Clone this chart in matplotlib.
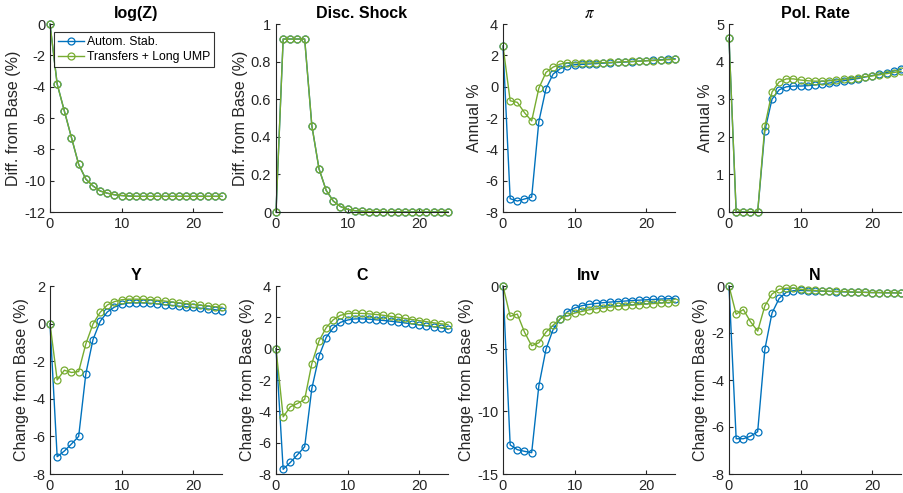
import matplotlib
matplotlib.use("Agg")
import matplotlib.pyplot as plt
import numpy as np

# horizon (quarters)
t = list(range(25))

logz_a = [0, -3.83, -5.55, -7.26, -8.96, -9.9, -10.34, -10.66, -10.8, -10.9, -10.95, -10.98, -11.0,
          -11.0, -11.0, -11.0, -11.0, -11.0, -11.0, -11.0, -11.0, -11.0, -11.0, -11.0, -11.0]
logz_b = logz_a

disc_a = [0, 0.92, 0.92, 0.92, 0.92, 0.46, 0.23, 0.115, 0.058, 0.029, 0.014, 0.007, 0.004,
          0.002, 0.001, 0.0005, 0, 0, 0, 0, 0, 0, 0, 0, 0]
disc_b = disc_a

pi_a = [2.6, -7.15, -7.3, -7.17, -7.05, -2.23, -0.12, 0.81, 1.15, 1.32, 1.40, 1.42, 1.45,
        1.47, 1.50, 1.52, 1.55, 1.57, 1.60, 1.63, 1.66, 1.69, 1.72, 1.75, 1.78]
pi_b = [2.6, -0.9, -1.0, -1.66, -2.19, -0.1, 0.91, 1.25, 1.44, 1.53, 1.52, 1.51, 1.51,
        1.52, 1.53, 1.55, 1.57, 1.59, 1.61, 1.63, 1.65, 1.67, 1.69, 1.72, 1.74]

rate_a = [4.62, 0, 0, 0, 0, 2.16, 3.0, 3.25, 3.33, 3.35, 3.35, 3.36, 3.38,
          3.40, 3.43, 3.46, 3.49, 3.52, 3.55, 3.59, 3.63, 3.67, 3.71, 3.75, 3.79]
rate_b = [4.62, 0, 0, 0, 0, 2.28, 3.19, 3.46, 3.54, 3.54, 3.51, 3.49, 3.48,
          3.48, 3.49, 3.51, 3.53, 3.55, 3.57, 3.60, 3.62, 3.65, 3.68, 3.71, 3.74]

y_a = [0, -7.08, -6.78, -6.4, -6.0, -2.67, -0.85, 0.12, 0.62, 0.88, 1.03, 1.1, 1.1,
       1.1, 1.08, 1.05, 1.0, 0.97, 0.93, 0.9, 0.86, 0.82, 0.78, 0.74, 0.69]
y_b = [0, -3.0, -2.48, -2.6, -2.55, -1.08, -0.02, 0.6, 0.99, 1.17, 1.27, 1.3, 1.3,
       1.29, 1.27, 1.24, 1.2, 1.15, 1.1, 1.06, 1.02, 0.98, 0.94, 0.9, 0.87]

c_a = [0, -7.7, -7.26, -6.77, -6.26, -2.54, -0.48, 0.71, 1.34, 1.68, 1.83, 1.9, 1.9,
       1.88, 1.84, 1.8, 1.75, 1.7, 1.64, 1.58, 1.52, 1.46, 1.4, 1.34, 1.24]
c_b = [0, -4.35, -3.71, -3.5, -3.24, -0.95, 0.49, 1.34, 1.85, 2.13, 2.24, 2.26, 2.25,
       2.22, 2.18, 2.13, 2.06, 2.0, 1.93, 1.86, 1.79, 1.72, 1.65, 1.59, 1.53]

inv_a = [0, -12.68, -13.06, -13.19, -13.3, -7.97, -5.04, -3.46, -2.61, -2.05, -1.76, -1.57, -1.47,
         -1.39, -1.33, -1.28, -1.24, -1.2, -1.16, -1.13, -1.1, -1.07, -1.04, -1.02, -1.0]
inv_b = [0, -2.42, -2.24, -3.68, -4.77, -4.53, -3.68, -3.12, -2.61, -2.37, -2.16, -2.03, -1.9,
         -1.82, -1.75, -1.68, -1.62, -1.57, -1.52, -1.48, -1.44, -1.4, -1.36, -1.32, -1.28]

n_a = [0, -6.5, -6.5, -6.39, -6.2, -2.7, -1.15, -0.53, -0.27, -0.2, -0.19, -0.2, -0.21,
       -0.22, -0.23, -0.24, -0.25, -0.26, -0.27, -0.27, -0.28, -0.28, -0.29, -0.29, -0.3]
n_b = [0, -1.2, -1.0, -1.52, -1.92, -0.85, -0.34, -0.14, -0.09, -0.09, -0.14, -0.17, -0.19,
       -0.21, -0.22, -0.23, -0.24, -0.25, -0.26, -0.27, -0.28, -0.28, -0.29, -0.29, -0.3]

titles = ["log(Z)", "Disc. Shock", r"$\pi$", "Pol. Rate", "Y", "C", "Inv", "N"]
ylabels = ["Diff. from Base (%)", "Diff. from Base (%)", "Annual %", "Annual %",
           "Change from Base (%)", "Change from Base (%)", "Change from Base (%)", "Change from Base (%)"]
series = [(logz_a, logz_b), (disc_a, disc_b), (pi_a, pi_b), (rate_a, rate_b),
          (y_a, y_b), (c_a, c_b), (inv_a, inv_b), (n_a, n_b)]
ylims = [(-12, 0), (0, 1), (-8, 4), (0, 5), (-8, 2), (-8, 4), (-15, 0), (-8, 0)]
yticks = [np.arange(-12, 1, 2), np.arange(0, 1.01, 0.2), np.arange(-8, 5, 2), np.arange(0, 6, 1),
          np.arange(-8, 3, 2), np.arange(-8, 5, 2), np.arange(-15, 1, 5), np.arange(-8, 1, 2)]
labels = ["Autom. Stab.", "Transfers + Long UMP"]

blue = "#0072BD"
green = "#77AC30"
axcol = "#262626"

plt.rcParams["font.family"] = "Liberation Sans"
plt.rcParams["mathtext.fontset"] = "stix"

fig = plt.figure(figsize=(9.04, 4.93), dpi=100)
lefts = [50, 276, 503, 729]
w = 172
rows = [(24, 212), (286, 474)]

for i in range(8):
    r, c = divmod(i, 4)
    top, bot = rows[r]
    ax = fig.add_axes([lefts[c] / 904, 1 - bot / 493, w / 904, (bot - top) / 493])
    a, b = series[i]
    ax.plot(t, a, "-o", color=blue, lw=1.0, ms=5, mfc="none", mew=0.9, label=labels[0], clip_on=False)
    ax.plot(t, b, "-o", color=green, lw=1.0, ms=5, mfc="none", mew=0.9, label=labels[1], clip_on=False)
    ax.set_xlim(0, 24)
    ax.set_ylim(*ylims[i])
    ax.set_xticks([0, 10, 20])
    ax.set_yticks(yticks[i])
    ax.yaxis.set_major_formatter(matplotlib.ticker.FuncFormatter(lambda v, p: f"{v:g}"))
    for s in ["top", "right"]:
        ax.spines[s].set_visible(False)
    for s in ["left", "bottom"]:
        ax.spines[s].set_color(axcol)
        ax.spines[s].set_linewidth(0.8)
    ax.tick_params(direction="in", length=3, labelsize=10.5, colors=axcol, labelcolor=axcol)
    ax.set_ylabel(ylabels[i], fontsize=11.5, color=axcol, labelpad=2)
    if i == 2:
        ax.set_title(titles[i], fontsize=12, pad=4)
    else:
        ax.set_title(titles[i], fontsize=11.5, fontweight="bold", pad=4)
    if i == 0:
        leg = ax.legend(loc="upper right", fontsize=8.8, frameon=True, fancybox=False,
                        borderpad=0.35, labelspacing=0.25, handlelength=2.1, handletextpad=0.25,
                        borderaxespad=0, bbox_to_anchor=(0.955, 0.96))
        leg.get_frame().set_edgecolor("black")
        leg.get_frame().set_linewidth(0.8)

fig.savefig("out.png", dpi=100)
